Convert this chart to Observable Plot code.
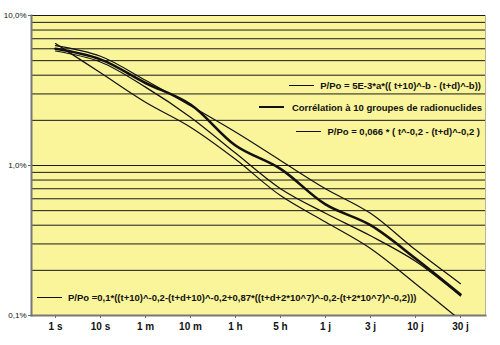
<!DOCTYPE html>
<html>
<head>
<meta charset="utf-8">
<script src="https://cdn.jsdelivr.net/npm/d3@7"></script>
<script src="https://cdn.jsdelivr.net/npm/@observablehq/plot@0.6"></script>
<style>
  html, body { margin: 0; padding: 0; background: #fff; }
  #wrap { position: relative; width: 500px; height: 345px; font-family: "Liberation Sans", Arial, sans-serif; }
  .leg { position: absolute; display: flex; align-items: center; height: 12px; font-weight: bold; font-size: 9.5px; color: #111; white-space: nowrap; }
  .leg .sample { display: inline-block; width: 25px; border-top: 1.2px solid #111; margin-right: 6px; }
  .leg .sample.thick { border-top-width: 2.5px; margin-right: 8px; }
</style>
</head>
<body>
<div id="wrap"></div>
<script>
// categories (time after shutdown)
const categories = ["1 s", "10 s", "1 m", "10 m", "1 h", "5 h", "1 j", "3 j", "10 j", "30 j"];

// series values in % (P/Po)
const seriesFormulaB = [6.3, 5.35, 3.7, 2.5, 1.67, 1.08, 0.70, 0.48, 0.274, 0.163];   // P/Po = 5E-3*a*(...)
const seriesCorrelation = [6.0, 5.1, 3.55, 2.55, 1.36, 0.95, 0.55, 0.40, 0.24, 0.138]; // Corrélation (thick)
const seriesFormula066 = [5.8, 4.9, 3.33, 2.1, 1.21, 0.70, 0.48, 0.34, 0.23, 0.135];  // P/Po = 0,066*(...)
const seriesFormula01 = [6.5, 4.15, 2.64, 1.8, 1.10, 0.63, 0.42, 0.28, 0.163, 0.093]; // P/Po = 0,1*(...)

// axis ticks
const yTicks = [0.1, 1, 10];
const yTickLabels = ["0,1%", "1,0%", "10,0%"];
const gridMultipliers = [1, 2, 3, 4, 5, 6, 7, 8, 9];
const gridDecades = [0.1, 1];

// legend labels
const legendLabels = [
  "P/Po = 5E-3*a*(( t+10)^-b - (t+d)^-b))",
  "Corrélation à 10 groupes de radionuclides",
  "P/Po = 0,066 * (  t^-0,2 - (t+d)^-0,2 )",
  "P/Po =0,1*((t+10)^-0,2-(t+d+10)^-0,2+0,87*((t+d+2*10^7)^-0,2-(t+2*10^7)^-0,2)))"
];

const gridTicks = gridDecades.flatMap(d => gridMultipliers.map(m => +(d * m).toPrecision(3))).concat([10]);

const seriesList = [
  {name: legendLabels[0], values: seriesFormulaB, w: 1.2},
  {name: legendLabels[1], values: seriesCorrelation, w: 2.6},
  {name: legendLabels[2], values: seriesFormula066, w: 1.2},
  {name: legendLabels[3], values: seriesFormula01, w: 1.2}
];

const lineMarks = seriesList.map(s =>
  Plot.line(s.values.map((v, i) => ({cat: categories[i], value: v})), {
    x: "cat", y: "value", stroke: "#111", strokeWidth: s.w, curve: "catmull-rom", clip: true
  })
);

const chart = Plot.plot({
  width: 500,
  height: 345,
  marginTop: 15,
  marginBottom: 30,
  marginLeft: 31,
  marginRight: 15,
  style: {background: "white", fontFamily: "'Liberation Sans', Arial, sans-serif", color: "#111"},
  x: {type: "point", domain: categories, range: [53, 461.5], padding: 0},
  y: {type: "log", domain: [0.1, 10]},
  marks: [
    Plot.frame({fill: "#FAF59A", stroke: "#b5b39a", strokeWidth: 1}),
    Plot.gridY(gridTicks, {stroke: "#1a1a1a", strokeOpacity: 1, strokeWidth: 1}),
    Plot.axisY(yTicks, {tickSize: 3, fontSize: 8, tickPadding: 2, label: null,
      tickFormat: d => yTickLabels[yTicks.indexOf(d)], stroke: "#666"}),
    Plot.axisX({tickSize: 3, tickPadding: 4, fontSize: 10, fontWeight: "bold", label: null, stroke: "#666"}),
    Plot.frame({anchor: "left", stroke: "#777", strokeWidth: 2}),
    Plot.frame({anchor: "bottom", stroke: "#777", strokeWidth: 2}),
    ...lineMarks
  ]
});

const wrap = document.getElementById("wrap");
wrap.appendChild(chart);

// legend entries inside the plot area (HTML overlay)
const legendPos = [
  {right: 19, top: 79, thick: false},
  {right: 18, top: 101, thick: true},
  {right: 20, top: 125, thick: false},
  {left: 37, top: 291, thick: false}
];
legendLabels.forEach((label, i) => {
  const p = legendPos[i];
  const div = document.createElement("div");
  div.className = "leg";
  if (p.right != null) div.style.right = p.right + "px"; else div.style.left = p.left + "px";
  div.style.top = p.top + "px";
  const s = document.createElement("span");
  s.className = "sample" + (p.thick ? " thick" : "");
  const t = document.createElement("span");
  t.textContent = label;
  div.appendChild(s);
  div.appendChild(t);
  wrap.appendChild(div);
});
</script>
</body>
</html>
